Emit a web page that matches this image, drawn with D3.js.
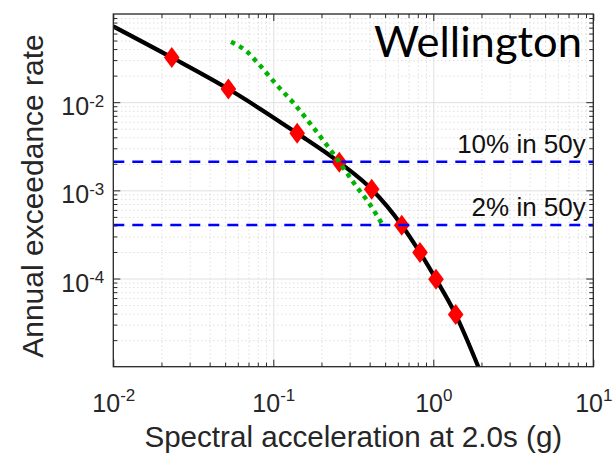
<!DOCTYPE html>
<html>
<head>
<meta charset="utf-8">
<script src="https://cdn.jsdelivr.net/npm/d3@7"></script>
<style>
body { margin: 0; background: #fff; }
svg { display: block; }
text { font-family: "Liberation Sans", Arial, sans-serif; fill: #262626; }
</style>
</head>
<body>
<div id="chart"></div>
<script>
const width = 614;
const height = 454;
const plot = {left: 113.3, right: 593.3, top: 14, bottom: 366.7};

// hazard curve (Sa in g, annual rate)
const hazardSa   = [0.01, 0.0232, 0.0524, 0.141, 0.2585, 0.412, 0.635, 0.826, 1.04, 1.38, 1.91];
const hazardRate = [0.0723, 0.0321, 0.0141, 0.00444, 0.00208, 0.00103, 0.000403, 0.000197, 0.0000982, 0.000039, 0.00001];

// red diamond markers
const markerSa   = [0.0232, 0.0524, 0.141, 0.2585, 0.412, 0.635, 0.826, 1.04, 1.38];
const markerRate = [0.0321, 0.0141, 0.00444, 0.00208, 0.00103, 0.000403, 0.000197, 0.0000982, 0.000039];

// green dotted curve
const greenSa   = [0.0544, 0.0682, 0.0811, 0.105, 0.137, 0.176, 0.243, 0.329, 0.396, 0.476];
const greenRate = [0.0484, 0.0376, 0.0270, 0.0157, 0.00932, 0.00528, 0.00245, 0.00112, 0.000718, 0.000422];

// design levels
const levelRates  = [0.002107, 0.000404];
const levelLabels = ["10% in 50y", "2% in 50y"];

// ticks
const xMajor = [0.01, 0.1, 1, 10];
const xTickExp = ["-2", "-1", "0", "1"];
const yMajor = [1e-4, 1e-3, 1e-2];
const yTickExp = ["-4", "-3", "-2"];

const siteName = "Wellington";
const xTitle = "Spectral acceleration at 2.0s (g)";
const yTitle = "Annual exceedance rate";

const svg = d3.select("#chart").append("svg")
    .attr("width", width)
    .attr("height", height);

const x = d3.scaleLog().domain([0.01, 10]).range([plot.left, plot.right]);
const y = d3.scaleLog().domain([1e-5, 0.1]).range([plot.bottom, plot.top]);

const pw = plot.right - plot.left;
const ph = plot.bottom - plot.top;

const isDecade = v => Math.abs(Math.log10(v) - Math.round(Math.log10(v))) < 1e-9;
const xMinor = x.ticks().filter(v => !isDecade(v));
const yMinor = y.ticks().filter(v => !isDecade(v));
const xGrid = x.ticks().filter(v => isDecade(v) && v > 0.01 && v < 10);
const yGrid = y.ticks().filter(v => isDecade(v) && v > 1e-5 && v < 0.1);

svg.append("defs").append("clipPath").attr("id", "clip")
  .append("rect")
    .attr("x", plot.left).attr("y", plot.top)
    .attr("width", pw).attr("height", ph);

// GRID
function gridStyle(g, dotted) {
  g.select(".domain").remove();
  g.selectAll("line")
      .attr("stroke", dotted ? "#cfcfcf" : "#e0e0e0")
      .attr("stroke-width", 1)
      .attr("stroke-dasharray", dotted ? "1,3" : null);
}

svg.append("g")
    .attr("transform", `translate(0,${plot.bottom})`)
    .call(d3.axisBottom(x).tickValues(xMinor).tickSize(-ph).tickFormat(""))
    .call(g => gridStyle(g, true));
svg.append("g")
    .attr("transform", `translate(${plot.left},0)`)
    .call(d3.axisLeft(y).tickValues(yMinor).tickSize(-pw).tickFormat(""))
    .call(g => gridStyle(g, true));
svg.append("g")
    .attr("transform", `translate(0,${plot.bottom})`)
    .call(d3.axisBottom(x).tickValues(xGrid).tickSize(-ph).tickFormat(""))
    .call(g => gridStyle(g, false));
svg.append("g")
    .attr("transform", `translate(${plot.left},0)`)
    .call(d3.axisLeft(y).tickValues(yGrid).tickSize(-pw).tickFormat(""))
    .call(g => gridStyle(g, false));

const plotArea = svg.append("g").attr("clip-path", "url(#clip)");

const line = d3.line()
    .x(d => x(d[0]))
    .y(d => y(d[1]))
    .curve(d3.curveMonotoneX);

// hazard curve
plotArea.append("path")
    .datum(hazardSa.map((s, i) => [s, hazardRate[i]]))
    .attr("d", line)
    .attr("fill", "none")
    .attr("stroke", "#000")
    .attr("stroke-width", 4.2);

// diamonds
plotArea.selectAll("path.marker")
    .data(markerSa.map((s, i) => [s, markerRate[i]]))
    .enter()
    .append("path")
    .attr("class", "marker")
    .attr("d", "M0,-10.5L7.8,0L0,10.5L-7.8,0Z")
    .attr("transform", d => `translate(${x(d[0])},${y(d[1])})`)
    .attr("fill", "#ff0000");

// green dotted curve
plotArea.append("path")
    .datum(greenSa.map((s, i) => [s, greenRate[i]]))
    .attr("d", line)
    .attr("fill", "none")
    .attr("stroke", "#00b400")
    .attr("stroke-width", 4.5)
    .attr("stroke-dasharray", "4.5,4.8");

// design level lines
plotArea.selectAll("line.level")
    .data(levelRates)
    .enter()
    .append("line")
    .attr("class", "level")
    .attr("x1", plot.left)
    .attr("x2", plot.right)
    .attr("y1", d => y(d))
    .attr("y2", d => y(d))
    .attr("stroke", "#0000ff")
    .attr("stroke-width", 2.6)
    .attr("stroke-dasharray", "11,8");

svg.selectAll("text.levelLabel")
    .data(levelRates)
    .enter()
    .append("text")
    .attr("class", "levelLabel")
    .attr("x", plot.right - 7.5)
    .attr("y", d => y(d) - 9)
    .attr("text-anchor", "end")
    .attr("font-size", 26)
    .style("fill", "#111")
    .text((d, i) => levelLabels[i]);

svg.append("text")
    .attr("x", 582)
    .attr("y", 56.7)
    .attr("text-anchor", "end")
    .attr("font-size", 42)
    .attr("textLength", 208)
    .attr("lengthAdjust", "spacingAndGlyphs")
    .style("font-family", "Lato, 'Open Sans', sans-serif")
    .style("fill", "#000")
    .text(siteName);

// AXES (ticks inward on all four sides)
function tickStyle(g) {
  g.select(".domain").remove();
  g.selectAll(".tick line").attr("stroke", "#262626").attr("stroke-width", 1);
}

const sides = [
  {axis: d3.axisBottom, scale: x, tr: `translate(0,${plot.bottom})`},
  {axis: d3.axisTop, scale: x, tr: `translate(0,${plot.top})`},
  {axis: d3.axisLeft, scale: y, tr: `translate(${plot.left},0)`},
  {axis: d3.axisRight, scale: y, tr: `translate(${plot.right},0)`}
];

sides.forEach(s => {
  const minor = s.scale === x ? xMinor : yMinor;
  const major = s.scale === x ? xMajor : yMajor;
  svg.append("g")
      .attr("transform", s.tr)
      .call(s.axis(s.scale).tickValues(minor).tickSize(-4).tickFormat(""))
      .call(tickStyle);
  svg.append("g")
      .attr("transform", s.tr)
      .call(s.axis(s.scale).tickValues(major).tickSize(-7).tickFormat(""))
      .call(tickStyle);
});

// x tick labels
svg.append("g")
    .attr("transform", `translate(0,${plot.bottom})`)
    .call(d3.axisBottom(x).tickValues(xMajor).tickSize(0).tickPadding(0))
    .call(g => g.select(".domain").remove())
    .selectAll(".tick text")
    .each(function(d, i) {
      const t = d3.select(this).text(null)
          .attr("y", 45).attr("dy", null)
          .attr("font-size", 25);
      t.append("tspan").text("10");
      t.append("tspan").attr("dy", -11).attr("font-size", 17).text(xTickExp[i]);
    });

// y tick labels
svg.append("g")
    .attr("transform", `translate(${plot.left},0)`)
    .call(d3.axisLeft(y).tickValues(yMajor).tickSize(0).tickPadding(9))
    .call(g => g.select(".domain").remove())
    .selectAll(".tick text")
    .each(function(d, i) {
      const t = d3.select(this).text(null)
          .attr("y", 12.5).attr("dy", null)
          .attr("font-size", 25);
      t.append("tspan").text("10");
      t.append("tspan").attr("dy", -8.5).attr("font-size", 17).text(yTickExp[i]);
    });

// box
svg.append("rect")
    .attr("x", plot.left).attr("y", plot.top)
    .attr("width", pw).attr("height", ph)
    .attr("fill", "none")
    .attr("stroke", "#262626")
    .attr("stroke-width", 1.3);

// axis titles
svg.append("text")
    .attr("x", (plot.left + plot.right) / 2)
    .attr("y", 447)
    .attr("text-anchor", "middle")
    .attr("font-size", 29.6)
    .text(xTitle);

svg.append("text")
    .attr("transform", "translate(43.3,196) rotate(-90)")
    .attr("text-anchor", "middle")
    .attr("font-size", 30)
    .text(yTitle);
</script>
</body>
</html>
